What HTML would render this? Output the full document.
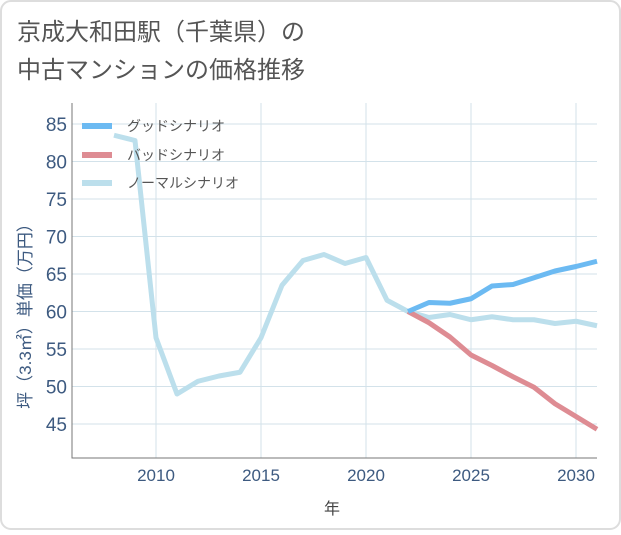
<!DOCTYPE html>
<html><head><meta charset="utf-8"><style>
body{margin:0;background:#fff;font-family:"Liberation Sans","Noto Sans CJK JP",sans-serif}
#wrap{position:relative;width:621px;height:530px}
</style></head><body>
<div id="wrap">
<svg id="c" width="621" height="530" xmlns="http://www.w3.org/2000/svg">
<rect x="1" y="1" width="619" height="528" rx="10" fill="#fff" stroke="#ddd" stroke-width="2"/>
<text x="17" y="40" font-size="24" fill="#555">京成大和田駅（千葉県）の</text>
<text x="17" y="78" font-size="24" fill="#555">中古マンションの価格推移</text>
<g id="grid"></g>
<g id="series"></g>
<g id="legend"></g>
<text x="332" y="514" font-size="16" fill="#444" text-anchor="middle">年</text>
<text transform="translate(31,312) rotate(-90)" font-size="17" fill="#3d5a80" text-anchor="middle">坪（3.3㎡）単価（万円）</text>
</svg>
</div>
<script>
const years=[2008,2009,2010,2011,2012,2013,2014,2015,2016,2017,2018,2019,2020,2021,2022,2023,2024,2025,2026,2027,2028,2029,2030,2031];
const normal=[83.5,82.8,56.5,49,50.7,51.4,51.9,56.5,63.5,66.8,67.6,66.4,67.2,61.5,60,59.2,59.6,58.9,59.3,58.9,58.9,58.4,58.7,58.1];
const futureYears=[2022,2023,2024,2025,2026,2027,2028,2029,2030,2031];
const good=[60,61.2,61.1,61.7,63.4,63.6,64.5,65.4,66,66.7];
const bad=[60,58.5,56.6,54.2,52.8,51.3,49.9,47.7,46,44.3];
const xTicks=[2010,2015,2020,2025,2030];
const yTicks=[45,50,55,60,65,70,75,80,85];
const L=72,R=597,T=103,B=458;
const x=y=>156+(y-2010)*21;
const yS=v=>424-(v-45)*7.5;
const NS="http://www.w3.org/2000/svg";
function mk(tag,attrs,parent){const e=document.createElementNS(NS,tag);for(const k in attrs)e.setAttribute(k,attrs[k]);parent.appendChild(e);return e;}
const g=document.getElementById('grid');
yTicks.forEach(v=>{
 const l=mk('line',{x1:L,x2:R,y1:yS(v),y2:yS(v),stroke:'#d3e2ea','stroke-width':1},g);
 
 
 const t=mk('text',{x:L-5,y:yS(v)+7,'font-size':19,fill:'#3d5a80','text-anchor':'end'},g);
 t.textContent=v;
 
 
});
xTicks.forEach(v=>{
 const l=mk('line',{x1:x(v),x2:x(v),y1:T,y2:B,stroke:'#d3e2ea','stroke-width':1},g);
 
 
 const t=mk('text',{x:x(v),y:B+23,'font-size':17,fill:'#3d5a80','text-anchor':'middle'},g);
 t.textContent=v;
 
 
});
const ax=mk('path',{d:`M${L} ${T}V${B}H${R}`,fill:'none',stroke:'#777','stroke-width':1},g);


const s=document.getElementById('series');
function line(xs,vs,color,name){
 const p=mk('polyline',{points:xs.map((yr,i)=>x(yr)+','+yS(vs[i])).join(' '),fill:'none',stroke:color,'stroke-width':5,'stroke-linejoin':'round'},s);
 
 
}
line(years,normal,'#bcdfec','normal-scenario-line');
line(futureYears,bad,'#de8c93','bad-scenario-line');
line(futureYears,good,'#6cbaf2','good-scenario-line');
const lg=document.getElementById('legend');
[['グッドシナリオ','#6cbaf2',126],['バッドシナリオ','#de8c93',155],['ノーマルシナリオ','#bcdfec',183]].forEach(([n,c,yy])=>{
 const r=mk('rect',{x:82,y:yy-3,width:30,height:6,fill:c},lg);
 
 
 const t=mk('text',{x:127,y:yy+5,'font-size':14,fill:'#555'},lg);
 t.textContent=n;
 
 
});
</script>
</body></html>
